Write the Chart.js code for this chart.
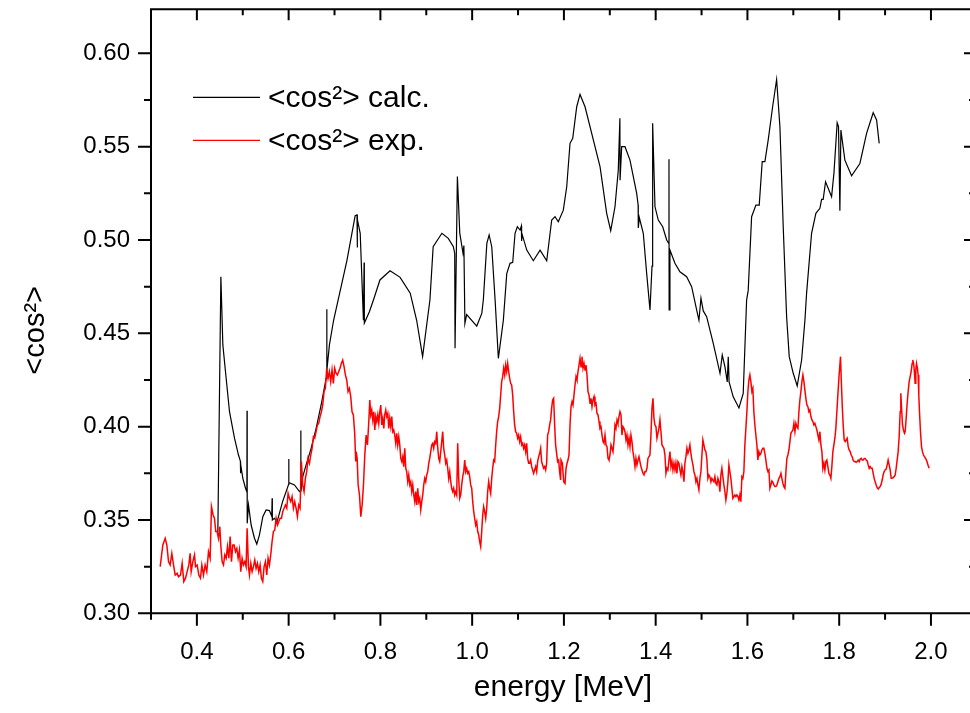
<!DOCTYPE html>
<html><head><meta charset="utf-8">
<script src="https://cdn.jsdelivr.net/npm/chart.js@4.4.1/dist/chart.umd.min.js"></script>
<style>html,body{margin:0;padding:0;background:#fff;overflow:hidden;width:970px;height:713px}canvas{display:block}</style>
</head><body>
<canvas id="c" width="990" height="713" style="width:990px;height:713px"></canvas>
<script>
const seriesNames = ['<cos\u00b2> calc.', '<cos\u00b2> exp.'];
const xTitle = 'energy [MeV]';
const yTitle = '<cos\u00b2>';
const xTickVals = [0.4,0.6,0.8,1.0,1.2,1.4,1.6,1.8,2.0];
const xTickLabels = ['0.4','0.6','0.8','1.0','1.2','1.4','1.6','1.8','2.0'];
const xMinorVals = [0.3,0.5,0.7,0.9,1.1,1.3,1.5,1.7,1.9];
const yTickVals = [0.30,0.35,0.40,0.45,0.50,0.55,0.60];
const yTickLabels = ['0.30','0.35','0.40','0.45','0.50','0.55','0.60'];
const yMinorVals = [0.325,0.375,0.425,0.475,0.525,0.575];

const calcE = [0.4457,0.4523,0.4566,0.4638,0.4711,0.4820,0.4907,0.4948,0.4951,0.4955,
0.5002,0.5060,0.5090,0.5093,0.5097,0.5125,0.5183,0.5255,0.5306,0.5364,
0.5437,0.5509,0.5582,0.5632,0.5640,0.5645,0.5691,0.5749,0.5870,0.5998,
0.6002,0.6006,0.6127,0.6236,0.6262,0.6265,0.6268,0.6308,0.6381,0.6490,
0.6599,0.6708,0.6817,0.6830,0.6832,0.6836,0.6889,0.6980,0.7270,0.7450,
0.7490,0.7495,0.7500,0.7560,0.7630,0.7645,0.7650,0.7760,0.7850,0.7990,
0.8210,0.8430,0.8650,0.8790,0.8920,0.9080,0.9150,0.9340,0.9480,0.9590,
0.9620,0.9627,0.9678,0.9730,0.9800,0.9820,0.9842,0.9880,1.0100,1.0210,
1.0244,1.0320,1.0370,1.0427,1.0500,1.0571,1.0680,1.0754,1.0826,1.0884,
1.0935,1.0985,1.1044,1.1073,1.1078,1.1090,1.1190,1.1333,1.1480,1.1625,
1.1734,1.1806,1.1878,1.1987,1.2061,1.2133,1.2192,1.2279,1.2351,1.2460,
1.2641,1.2787,1.2932,1.3020,1.3113,1.3185,1.3220,1.3224,1.3259,1.3331,
1.3440,1.3586,1.3618,1.3621,1.3643,1.3730,1.3804,1.3876,1.3920,1.3934,
1.3985,1.4057,1.4153,1.4240,1.4288,1.4290,1.4293,1.4311,1.4420,1.4529,
1.4675,1.4784,1.4893,1.4943,1.4987,1.5037,1.5111,1.5255,1.5402,1.5451,
1.5510,1.5560,1.5582,1.5600,1.5690,1.5815,1.5908,1.5982,1.6017,1.6091,
1.6185,1.6257,1.6322,1.6381,1.6453,1.6549,1.6636,1.6708,1.6780,1.6854,
1.6911,1.6998,1.7085,1.7181,1.7253,1.7289,1.7398,1.7492,1.7579,1.7617,
1.7651,1.7703,1.7834,1.7885,1.7956,1.7985,1.8015,1.8037,1.8124,1.8270,
1.8451,1.8597,1.8741,1.8815,1.8872];
const calcV = [0.3437,0.4803,0.4438,0.4259,0.4080,0.3938,0.3848,0.3815,0.3750,0.3800,
0.3723,0.3670,0.3650,0.4085,0.3482,0.3580,0.3473,0.3402,0.3371,0.3420,
0.3518,0.3554,0.3550,0.3520,0.3616,0.3500,0.3509,0.3491,0.3600,0.3690,
0.3827,0.3700,0.3688,0.3652,0.3660,0.3979,0.3652,0.3732,0.3795,0.3884,
0.3991,0.4116,0.4259,0.4290,0.4629,0.4300,0.4438,0.4570,0.4890,0.5130,
0.5134,0.4960,0.5110,0.5036,0.4570,0.4880,0.4555,0.4616,0.4680,0.4786,
0.4835,0.4800,0.4715,0.4570,0.4375,0.4680,0.4964,0.5036,0.5009,0.4964,
0.4928,0.4420,0.5340,0.5037,0.4930,0.4970,0.4553,0.4600,0.4539,0.4607,
0.4680,0.4982,0.5027,0.4964,0.4680,0.4366,0.4570,0.4820,0.4875,0.4880,
0.5036,0.5071,0.5053,0.5075,0.4995,0.5030,0.4946,0.4889,0.4946,0.4889,
0.5107,0.5125,0.5098,0.5160,0.5285,0.5518,0.5545,0.5714,0.5780,0.5714,
0.5536,0.5393,0.5143,0.5050,0.5178,0.5375,0.5652,0.5320,0.5500,0.5500,
0.5428,0.5250,0.5187,0.5064,0.5120,0.5036,0.4820,0.4625,0.4860,0.5625,
0.5178,0.5107,0.5071,0.5000,0.4980,0.5432,0.4625,0.4946,0.4875,0.4830,
0.4803,0.4750,0.4625,0.4570,0.4688,0.4620,0.4589,0.4446,0.4286,0.4384,
0.4320,0.4240,0.4375,0.4240,0.4160,0.4100,0.4178,0.4678,0.4730,0.5125,
0.5187,0.5187,0.5420,0.5420,0.5536,0.5714,0.5860,0.5607,0.5071,0.4589,
0.4375,0.4286,0.4218,0.4357,0.4570,0.4714,0.5036,0.5143,0.5170,0.5218,
0.5218,0.5312,0.5232,0.5357,0.5628,0.5607,0.5157,0.5589,0.5428,0.5344,
0.5410,0.5571,0.5682,0.5643,0.5518];

const expE = [0.3200,0.3258,0.3309,0.3345,0.3382,0.3418,0.3454,0.3491,0.3527,0.3570,
0.3599,0.3643,0.3679,0.3715,0.3752,0.3788,0.3824,0.3853,0.3875,0.3912,
0.3948,0.3970,0.4006,0.4042,0.4078,0.4108,0.4144,0.4180,0.4216,0.4253,
0.4289,0.4318,0.4354,0.4383,0.4412,0.4441,0.4471,0.4500,0.4521,0.4550,
0.4580,0.4609,0.4638,0.4667,0.4696,0.4725,0.4754,0.4783,0.4812,0.4841,
0.4870,0.4899,0.4928,0.4957,0.4986,0.5015,0.5044,0.5073,0.5095,0.5124,
0.5146,0.5175,0.5204,0.5233,0.5262,0.5291,0.5320,0.5349,0.5378,0.5407,
0.5436,0.5465,0.5494,0.5523,0.5552,0.5581,0.5610,0.5639,0.5668,0.5697,
0.5727,0.5756,0.5785,0.5814,0.5843,0.5872,0.5901,0.5930,0.5959,0.5988,
0.6017,0.6046,0.6075,0.6104,0.6133,0.6162,0.6191,0.6220,0.6249,0.6278,
0.6307,0.6336,0.6365,0.6394,0.6423,0.6453,0.6482,0.6511,0.6540,0.6569,
0.6598,0.6627,0.6656,0.6685,0.6714,0.6743,0.6772,0.6801,0.6830,0.6859,
0.6888,0.6917,0.6946,0.6975,0.7004,0.7033,0.7062,0.7091,0.7120,0.7149,
0.7178,0.7208,0.7237,0.7266,0.7295,0.7324,0.7353,0.7382,0.7411,0.7440,
0.7462,
0.7471,0.7493,0.7515,0.7544,0.7573,0.7602,0.7631,0.7660,0.7689,0.7718,
0.7747,0.7769,0.7790,0.7812,0.7834,0.7856,0.7878,0.7899,0.7921,0.7943,
0.7965,0.7986,0.8008,0.8030,0.8052,0.8074,0.8095,0.8117,0.8139,0.8161,
0.8182,0.8204,0.8226,0.8248,0.8270,0.8291,0.8313,0.8335,0.8357,0.8378,
0.8400,0.8422,0.8444,0.8466,0.8487,0.8509,0.8531,0.8553,0.8574,0.8596,
0.8618,0.8640,0.8662,0.8683,0.8705,0.8727,0.8749,0.8770,0.8792,0.8814,
0.8836,0.8858,0.8879,0.8901,0.8923,0.8945,0.8966,0.8988,0.9010,0.9032,
0.9054,0.9075,0.9097,0.9119,0.9141,0.9162,0.9184,0.9206,0.9228,0.9250,
0.9271,0.9293,0.9315,0.9337,0.9358,0.9380,0.9402,0.9424,0.9446,0.9467,
0.9489,0.9511,0.9533,0.9554,0.9576,0.9598,0.9620,0.9642,0.9663,0.9685,
0.9707,0.9729,0.9750,0.9772,0.9794,0.9816,0.9838,0.9859,0.9881,0.9903,
0.9925,0.9946,0.9968,0.9990,1.0012,1.0034,1.0055,1.0077,1.0099,1.0121,
1.0142,1.0164,1.0186,1.0208,1.0230,1.0251,1.0273,1.0295,1.0317,1.0338,
1.0360,1.0382,1.0404,1.0426,1.0447,1.0469,1.0491,1.0513,1.0534,1.0556,
1.0578,1.0600,1.0622,1.0643,1.0665,1.0687,1.0709,1.0730,1.0752,1.0774,
1.0796,1.0818,1.0839,1.0861,1.0883,1.0905,1.0926,1.0948,1.0970,1.0992,
1.1014,1.1035,1.1057,1.1079,1.1101,1.1122,1.1144,1.1166,1.1188,1.1210,
1.1231,1.1253,1.1275,1.1297,1.1318,1.1340,1.1362,1.1384,1.1406,1.1427,
1.1449,1.1471,1.1493,1.1514,1.1536,1.1558,1.1580,1.1602,1.1623,1.1645,
1.1667,1.1689,1.1710,1.1732,1.1754,1.1776,1.1798,1.1819,1.1841,1.1863,
1.1885,1.1906,1.1928,
1.1937,1.1966,1.1995,1.2024,1.2046,1.2068,1.2089,1.2111,1.2133,1.2155,
1.2177,1.2198,1.2220,1.2242,1.2264,1.2285,1.2307,1.2329,1.2351,1.2373,
1.2394,1.2416,1.2438,1.2460,1.2481,1.2503,1.2525,1.2547,1.2569,1.2590,
1.2612,1.2634,1.2656,1.2677,1.2699,1.2721,1.2743,1.2765,1.2786,1.2808,
1.2830,1.2852,1.2873,1.2895,1.2917,1.2939,1.2961,1.2982,1.3004,1.3026,
1.3048,1.3069,1.3091,1.3113,1.3135,1.3157,1.3178,1.3200,1.3222,1.3244,
1.3265,1.3287,1.3309,1.3331,1.3353,1.3374,1.3396,1.3418,1.3440,1.3461,
1.3483,1.3505,1.3527,1.3549,1.3570,1.3592,1.3614,1.3636,1.3657,1.3679,
1.3701,1.3723,1.3745,1.3766,1.3788,1.3810,1.3832,1.3853,1.3875,1.3897,
1.3919,1.3941,1.3962,1.3984,1.4006,1.4028,1.4049,1.4071,1.4093,1.4115,
1.4137,1.4158,1.4180,1.4202,1.4224,1.4245,1.4267,1.4289,1.4311,1.4333,
1.4354,1.4376,1.4398,1.4420,1.4441,1.4463,1.4485,1.4507,1.4529,1.4550,
1.4572,1.4594,1.4616,1.4637,1.4659,1.4681,1.4703,1.4725,1.4746,1.4768,
1.4790,1.4812,1.4833,1.4855,1.4877,1.4899,1.4921,1.4942,1.4964,1.4986,
1.5008,1.5029,1.5051,1.5073,1.5095,1.5117,1.5138,1.5160,1.5182,1.5204,
1.5225,1.5247,1.5269,1.5291,1.5313,1.5334,1.5356,1.5378,1.5400,1.5421,
1.5443,1.5465,1.5487,1.5509,1.5530,1.5552,1.5574,1.5596,1.5617,1.5639,
1.5661,1.5683,1.5705,1.5726,1.5748,1.5770,1.5792,1.5813,1.5835,1.5857,
1.5879,1.5901,1.5922,1.5944,1.5966,1.5988,1.6010,1.6031,1.6053,1.6075,
1.6097,1.6118,1.6140,1.6162,1.6184,1.6206,1.6227,1.6249,1.6271,1.6293,
1.6314,1.6336,1.6358,1.6380,1.6402,
1.6425,1.6447,1.6468,1.6490,1.6512,1.6534,1.6555,1.6577,1.6599,1.6621,
1.6643,1.6664,1.6686,1.6708,1.6730,1.6751,1.6773,1.6795,1.6817,1.6839,
1.6860,1.6882,1.6904,1.6926,1.6947,1.6969,1.6991,1.7013,1.7035,1.7056,
1.7078,1.7100,1.7122,1.7143,1.7165,1.7187,1.7209,1.7231,1.7252,1.7274,
1.7296,1.7318,1.7339,1.7361,1.7383,1.7405,1.7427,1.7448,1.7470,1.7492,
1.7514,1.7535,1.7557,1.7579,1.7601,1.7623,1.7644,1.7666,1.7688,1.7710,
1.7731,1.7753,1.7775,1.7797,1.7819,1.7840,1.7862,1.7884,1.7906,1.7927,
1.7949,1.7971,1.7993,1.8015,1.8029,1.8044,1.8066,1.8087,1.8109,1.8131,
1.8153,1.8174,1.8196,1.8218,1.8240,1.8262,1.8283,1.8305,1.8327,1.8349,
1.8370,1.8392,1.8414,1.8436,1.8458,1.8479,1.8501,1.8523,1.8545,1.8566,
1.8588,1.8610,1.8632,1.8654,1.8675,1.8697,1.8719,1.8741,1.8762,1.8784,
1.8806,1.8828,1.8850,1.8871,1.8893,1.8915,1.8937,1.8958,1.8980,1.9002,
1.9024,1.9046,1.9067,1.9089,1.9111,1.9133,1.9154,1.9176,1.9198,1.9220,
1.9242,1.9263,1.9285,1.9307,1.9329,1.9343,1.9358,1.9380,1.9401,1.9423,
1.9438,1.9460,1.9481,1.9503,1.9525,1.9547,1.9568,1.9590,1.9605,1.9626,
1.9641,1.9655,1.9670,1.9685,1.9706,1.9721,1.9735,1.9750,1.9772,1.9794,
1.9815,1.9837,1.9859,1.9881,1.9902,1.9924,1.9946,1.9961];
const expV = [0.3250,0.3366,0.3402,0.3366,0.3277,0.3259,0.3321,0.3259,0.3205,0.3214,
0.3196,0.3205,0.3268,0.3170,0.3188,0.3223,0.3259,0.3321,0.3223,0.3277,
0.3313,0.3250,0.3259,0.3205,0.3188,0.3259,0.3205,0.3259,0.3223,0.3330,
0.3295,0.3571,0.3527,0.3509,0.3438,0.3438,0.3402,0.3464,0.3366,0.3277,
0.3259,0.3313,0.3295,0.3357,0.3295,0.3411,0.3277,0.3366,0.3366,0.3330,
0.3348,0.3295,0.3339,0.3223,0.3295,0.3259,0.3277,0.3250,0.3455,0.3250,
0.3205,0.3268,0.3223,0.3250,0.3286,0.3241,0.3268,0.3223,0.3259,0.3188,
0.3170,0.3250,0.3277,0.3205,0.3295,0.3259,0.3313,0.3384,0.3438,0.3446,
0.3509,0.3473,0.3491,0.3509,0.3509,0.3545,0.3563,0.3580,0.3563,0.3643,
0.3616,0.3598,0.3625,0.3563,0.3598,0.3563,0.3518,0.3580,0.3563,0.3813,
0.3688,0.3652,0.3723,0.3759,0.3830,0.3804,0.3848,0.3884,0.3946,0.3938,
0.3973,0.4009,0.4018,0.4054,0.4080,0.4116,0.4188,0.4205,0.4313,0.4259,
0.4295,0.4241,0.4304,0.4232,0.4313,0.4286,0.4277,0.4295,0.4313,0.4339,
0.4357,0.4321,0.4277,0.4250,0.4188,0.4205,0.4161,0.4080,0.4063,0.3964,
0.3813,
0.3866,0.3830,0.3688,0.3634,0.3518,0.3580,0.3688,0.3848,0.3955,0.3902,
0.4027,0.4143,0.4063,0.4089,0.4036,0.4080,0.3982,0.4054,0.4027,0.4063,
0.4018,0.4080,0.4116,0.4009,0.4045,0.3991,0.4063,0.4089,0.4054,0.4071,
0.3991,0.4045,0.4000,0.4054,0.3973,0.3982,0.3955,0.3911,0.3964,0.3902,
0.3946,0.3902,0.3830,0.3813,0.3839,0.3786,0.3884,0.3777,0.3759,0.3705,
0.3741,0.3688,0.3705,0.3652,0.3688,0.3634,0.3598,0.3652,0.3580,0.3670,
0.3598,0.3616,0.3554,0.3598,0.3634,0.3688,0.3723,0.3705,0.3741,0.3759,
0.3804,0.3830,0.3866,0.3902,0.3911,0.3884,0.3920,0.3911,0.3973,0.3884,
0.3830,0.3813,0.3866,0.3920,0.3973,0.3884,0.3848,0.3804,0.3821,0.3777,
0.3723,0.3759,0.3705,0.3670,0.3652,0.3670,0.3634,0.3652,0.3634,0.3911,
0.3723,0.3616,0.3634,0.3688,0.3732,0.3759,0.3821,0.3759,0.3777,0.3750,
0.3759,0.3732,0.3688,0.3670,0.3598,0.3545,0.3509,0.3473,0.3491,0.3438,
0.3420,0.3384,0.3357,0.3438,0.3527,0.3571,0.3545,0.3509,0.3563,0.3652,
0.3705,0.3670,0.3643,0.3723,0.3777,0.3821,0.3813,0.3902,0.3973,0.4027,
0.4054,0.4098,0.4170,0.4241,0.4268,0.4313,0.4277,0.4330,0.4295,0.4339,
0.4295,0.4259,0.4232,0.4223,0.4170,0.4080,0.4009,0.3973,0.3964,0.3938,
0.3955,0.3920,0.3946,0.3902,0.3911,0.3884,0.3902,0.3866,0.3911,0.3830,
0.3804,0.3804,0.3821,0.3786,0.3768,0.3750,0.3768,0.3786,0.3759,0.3813,
0.3839,0.3857,0.3884,0.3813,0.3795,0.3777,0.3786,0.3768,0.3804,0.3955,
0.3973,0.4009,0.4036,0.4098,0.4143,0.4152,0.4009,0.3902,0.3857,0.3813,
0.3821,0.3759,0.3714,
0.3821,0.3804,0.3705,0.3696,0.3777,0.3804,0.3821,0.3848,0.4009,0.4107,
0.4134,0.4116,0.4170,0.4223,0.4268,0.4250,0.4295,0.4330,0.4366,0.4321,
0.4375,0.4313,0.4339,0.4304,0.4330,0.4277,0.4188,0.4170,0.4125,0.4152,
0.4107,0.4143,0.4161,0.4116,0.4125,0.4071,0.4063,0.4027,0.3991,0.4000,
0.3955,0.3920,0.3911,0.3955,0.3902,0.3893,0.3830,0.3821,0.3848,0.3902,
0.3884,0.3866,0.3920,0.4009,0.3991,0.4036,0.4018,0.4054,0.4080,0.4063,
0.3955,0.4000,0.3991,0.3973,0.3929,0.3955,0.3902,0.3938,0.3893,0.3955,
0.3920,0.3866,0.3830,0.3786,0.3830,0.3795,0.3821,0.3839,0.3813,0.3786,
0.3768,0.3750,0.3741,0.3759,0.3759,0.3777,0.3830,0.3839,0.3848,0.3955,
0.4098,0.4152,0.4045,0.4009,0.4000,0.3938,0.3964,0.3991,0.4036,0.3973,
0.3902,0.3893,0.3884,0.3848,0.3750,0.3777,0.3768,0.3821,0.3866,0.3786,
0.3813,0.3768,0.3804,0.3768,0.3804,0.3750,0.3813,0.3804,0.3768,0.3741,
0.3786,0.3759,0.3705,0.3804,0.3839,0.3884,0.3857,0.3875,0.3902,0.3857,
0.3821,0.3795,0.3759,0.3741,0.3705,0.3723,0.3688,0.3661,0.3723,0.3759,
0.3848,0.3929,0.3902,0.3875,0.3866,0.3821,0.3723,0.3741,0.3732,0.3705,
0.3723,0.3714,0.3705,0.3732,0.3696,0.3688,0.3723,0.3705,0.3652,0.3741,
0.3777,0.3732,0.3688,0.3652,0.3607,0.3643,0.3705,0.3795,0.3759,0.3723,
0.3670,0.3616,0.3625,0.3634,0.3625,0.3634,0.3625,0.3607,0.3634,0.3598,
0.3732,0.3723,0.3759,0.3902,0.3991,0.4080,0.4188,0.4250,0.4277,0.4241,
0.4188,0.4205,0.4080,0.4009,0.3955,0.3902,0.3821,0.3866,0.3848,0.3857,
0.3875,0.3884,0.3884,0.3857,0.3821,
0.3777,0.3759,0.3768,0.3670,0.3688,0.3709,0.3702,0.3688,0.3679,0.3679,
0.3688,0.3705,0.3723,0.3732,0.3750,0.3723,0.3696,0.3679,0.3670,0.3759,
0.3830,0.3848,0.3875,0.3920,0.3964,0.3973,0.3982,0.4018,0.3973,0.4018,
0.4000,0.3991,0.4080,0.4143,0.4188,0.4241,0.4277,0.4241,0.4196,0.4152,
0.4116,0.4107,0.4080,0.4089,0.4054,0.4036,0.4027,0.4009,0.4018,0.4000,
0.3982,0.3955,0.3929,0.3973,0.3902,0.3866,0.3777,0.3804,0.3768,0.3813,
0.3821,0.3786,0.3750,0.3741,0.3723,0.3786,0.3866,0.3902,0.3938,0.3991,
0.4080,0.4170,0.4259,0.4330,0.4375,0.4259,0.4116,0.4009,0.3929,0.3920,
0.3929,0.3938,0.3893,0.3875,0.3866,0.3848,0.3839,0.3821,0.3813,0.3813,
0.3809,0.3813,0.3821,0.3813,0.3827,0.3830,0.3821,0.3821,0.3830,0.3830,
0.3821,0.3816,0.3795,0.3777,0.3786,0.3777,0.3777,0.3750,0.3723,0.3705,
0.3688,0.3673,0.3666,0.3673,0.3679,0.3691,0.3714,0.3741,0.3759,0.3768,
0.3773,0.3795,0.3821,0.3795,0.3768,0.3723,0.3723,0.3727,0.3732,0.3741,
0.3777,0.3821,0.3866,0.3946,0.4080,0.4179,0.4107,0.4009,0.3982,0.3964,
0.3973,0.4045,0.4125,0.4188,0.4241,0.4268,0.4295,0.4339,0.4357,0.4330,
0.4286,0.4232,0.4304,0.4339,0.4313,0.4277,0.4170,0.4080,0.3973,0.3893,
0.3866,0.3848,0.3839,0.3830,0.3821,0.3804,0.3786,0.3777];

const FONT = '"Liberation Sans", Arial, sans-serif';
const toPts = (xs, ys) => xs.map((x, i) => ({x: x, y: ys[i]}));

const framePlugin = {
  id: 'frame',
  afterDatasetsDraw(chart) {
    const {ctx, chartArea: a, scales} = chart;
    const x = scales.x, y = scales.y;
    ctx.save();
    ctx.strokeStyle = '#000';
    ctx.lineWidth = 2;
    ctx.lineCap = 'butt';
    ctx.beginPath();
    ctx.rect(a.left, a.top, a.right - a.left, a.bottom - a.top);
    xTickVals.forEach(v => { const p = x.getPixelForValue(v);
      ctx.moveTo(p, a.bottom); ctx.lineTo(p, a.bottom + 12.5);
      ctx.moveTo(p, a.top); ctx.lineTo(p, a.top + 11); });
    xMinorVals.forEach(v => { const p = x.getPixelForValue(v);
      ctx.moveTo(p, a.bottom); ctx.lineTo(p, a.bottom + 6.5);
      ctx.moveTo(p, a.top); ctx.lineTo(p, a.top + 6); });
    yTickVals.forEach(v => { const p = y.getPixelForValue(v);
      ctx.moveTo(a.left, p); ctx.lineTo(a.left - 13, p);
      ctx.moveTo(a.right, p); ctx.lineTo(a.right - 11, p); });
    yMinorVals.forEach(v => { const p = y.getPixelForValue(v);
      ctx.moveTo(a.left, p); ctx.lineTo(a.left - 7, p);
      ctx.moveTo(a.right, p); ctx.lineTo(a.right - 6, p); });
    ctx.stroke();
    ctx.restore();
  }
};

const legendPlugin = {
  id: 'insideLegend',
  afterDatasetsDraw(chart) {
    const {ctx, chartArea: a} = chart;
    ctx.save();
    chart.data.datasets.forEach((ds, i) => {
      const yy = a.top + 88 + i * 43;
      ctx.strokeStyle = ds.borderColor;
      ctx.lineWidth = 1.2;
      ctx.beginPath(); ctx.moveTo(a.left + 42, yy); ctx.lineTo(a.left + 109, yy); ctx.stroke();
      ctx.fillStyle = '#000';
      ctx.font = '30px ' + FONT;
      ctx.textBaseline = 'middle';
      ctx.textAlign = 'left';
      ctx.fillText(ds.label, a.left + 117, yy + 1);
    });
    ctx.restore();
  }
};

const yTitlePlugin = {
  id: 'yTitle',
  afterDraw(chart) {
    const {ctx, chartArea: a} = chart;
    ctx.save();
    ctx.translate(36, (a.top + a.bottom) / 2 + 19);
    ctx.rotate(-Math.PI / 2);
    ctx.fillStyle = '#000';
    ctx.font = '29px ' + FONT;
    ctx.textAlign = 'center';
    ctx.textBaseline = 'middle';
    ctx.fillText(yTitle, 0, 0);
    ctx.restore();
  }
};

new Chart(document.getElementById('c'), {
  type: 'line',
  data: {
    datasets: [
      {label: seriesNames[0], data: toPts(calcE, calcV), borderColor: '#000000', borderWidth: 1.2,
       pointRadius: 0, tension: 0, fill: false, order: 2},
      {label: seriesNames[1], data: toPts(expE, expV), borderColor: '#ff0000', borderWidth: 1.5,
       pointRadius: 0, tension: 0, fill: false, order: 1}
    ]
  },
  options: {
    responsive: false,
    animation: false,
    devicePixelRatio: 1,
    layout: {padding: {left: 0, right: 15, top: 9.3, bottom: 0}},
    plugins: {legend: {display: false}, tooltip: {enabled: false}},
    scales: {
      x: {
        type: 'linear', min: 0.3, max: 2.096,
        grid: {display: false, drawTicks: false},
        border: {display: false},
        afterBuildTicks: s => { s.ticks = xTickVals.map(v => ({value: v})); },
        afterFit: s => { s.height = 99.7; s.paddingLeft = 0; s.paddingRight = 0; },
        ticks: {callback: (v, i) => xTickLabels[i], font: {family: FONT, size: 24}, color: '#000',
                padding: 25, maxRotation: 0, autoSkip: false},
        title: {display: true, text: xTitle, color: '#000', font: {family: FONT, size: 30},
                padding: {top: 0, bottom: 7}}
      },
      y: {
        type: 'linear', min: 0.3, max: 0.6236,
        grid: {display: false, drawTicks: false},
        border: {display: false},
        afterBuildTicks: s => { s.ticks = yTickVals.map(v => ({value: v})); },
        afterFit: s => { s.width = 151; s.paddingTop = 0; s.paddingBottom = 0; },
        ticks: {callback: (v, i) => yTickLabels[i], font: {family: FONT, size: 24}, color: '#000',
                padding: 21, autoSkip: false},
        title: {display: false, text: yTitle}
      }
    }
  },
  plugins: [framePlugin, legendPlugin, yTitlePlugin]
});
</script>
</body></html>
